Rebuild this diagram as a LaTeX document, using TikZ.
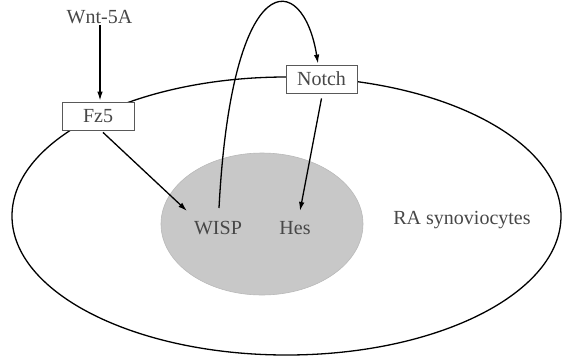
\documentclass[tikz,border=0pt]{standalone}
\usepackage{fontspec}
\setmainfont{Liberation Serif}
\usetikzlibrary{arrows.meta,calc}
\begin{document}
\begin{tikzpicture}[x=1pt,y=-1pt,
  lbl/.style={font=\fontsize{20}{22}\selectfont, text=black!72, inner sep=1pt},
  boxnode/.style={lbl, draw=black!65, line width=0.8pt, fill=white, minimum width=71pt, minimum height=28pt, inner sep=0pt},
  arr/.style={line width=1.3pt, -{Latex[length=9pt,width=5.5pt]}},
  cell/.style={draw=black, line width=1.3pt}
]
\useasboundingbox (0,0) rectangle (563,360);
% outer cell
\draw[cell] (286.5,216) ellipse [x radius=274.5, y radius=139];
% nucleus
\fill[fill={rgb,255:red,200;green,200;blue,200}, draw={rgb,255:red,185;green,185;blue,185}, line width=0.6pt] (262,224) ellipse [x radius=101, y radius=71];
% nodes
\node[lbl] (wnt) at (99.5,17) {Wnt-5A};
\node[boxnode, minimum width=72pt] (fz5) at (98,116) {Fz5};
\node[boxnode] (notch) at (321.5,79) {Notch};
\node[lbl] (wisp) at (218,228) {WISP};
\node[lbl] (hes) at (295,228) {Hes};
\node[lbl] (ra) at (462,220) {RA synoviocytes};
% connectors
\draw[arr] ($(wnt.south)+(0.5,0)$) -- ($(fz5.north)+(2,-1)$);
\draw[arr] ($(fz5.south)+(5,2)$) -- ($(wisp.center)+(-31,-17)$);
\draw[arr] ($(wisp.center)+(1,-20)$) .. controls (232,-38) and (303,-30) .. ($(notch.north)+(-3.5,-1)$);
\draw[arr] ($(notch.south)+(0,5)$) -- ($(hes.center)+(5,-17)$);
\end{tikzpicture}
\end{document}
